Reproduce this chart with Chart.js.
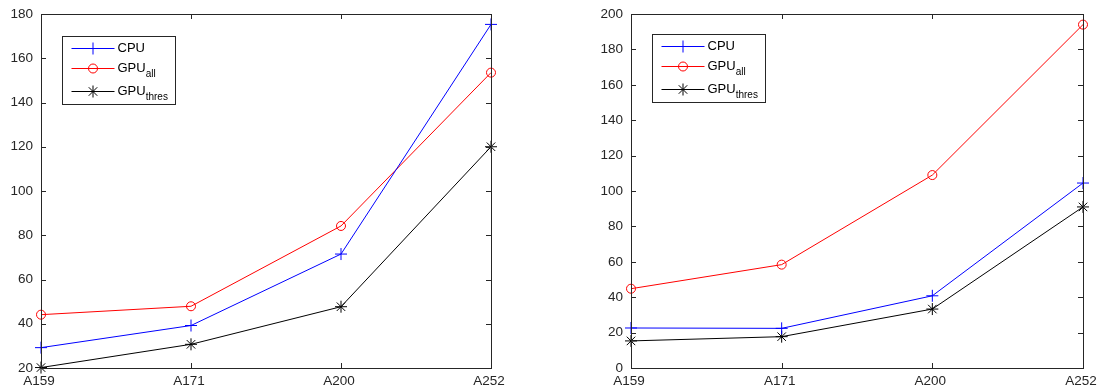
<!DOCTYPE html>
<html>
<head>
<meta charset="utf-8">
<script src="https://cdn.jsdelivr.net/npm/chart.js@4/dist/chart.umd.min.js"></script>
<style>
html,body{margin:0;padding:0;background:#fff;}
#wrap{position:relative;width:1097px;height:390px;}
.c{position:absolute;top:0;height:390px;}
</style>
</head>
<body>
<div id="wrap">
  <div class="c" style="left:0;width:548px;"><canvas id="c1"></canvas></div>
  <div class="c" style="left:548px;width:549px;"><canvas id="c2"></canvas></div>
</div>
<script>
const categories = ['A159', 'A171', 'A200', 'A252'];

// Left panel
const leftCPU   = [29.2, 39.2, 71.5, 175.3];
const leftGPUall   = [44.1, 47.9, 84.2, 153.5];
const leftGPUthres = [20.2, 30.7, 47.7, 120.0];
const leftTicks = [20, 40, 60, 80, 100, 120, 140, 160, 180];

// Right panel
const rightCPU   = [22.6, 22.4, 40.8, 104.5];
const rightGPUall   = [44.8, 58.4, 109.0, 194.0];
const rightGPUthres = [15.3, 17.7, 33.3, 91.0];
const rightTicks = [0, 20, 40, 60, 80, 100, 120, 140, 160, 180, 200];

const legendLabels = [['CPU', ''], ['GPU', 'all'], ['GPU', 'thres']];

const AX = '#262626';
const FONT = "'Liberation Sans', Arial, sans-serif";
const FS = 13.5;

function ds(label, data, color, style) {
  return {
    label, data,
    borderColor: color, backgroundColor: 'rgba(0,0,0,0)',
    borderWidth: 1, pointStyle: style,
    pointRadius: style === 'circle' ? 4.5 : 6,
    pointBorderColor: color, pointBackgroundColor: 'rgba(0,0,0,0)',
    pointBorderWidth: 1, tension: 0, clip: false
  };
}

function makeFrame(legendTop) {
  return {
    id: 'frame',
    afterDraw(chart) {
      const ctx = chart.ctx, a = chart.chartArea;
      const xs = chart.scales.x, ys = chart.scales.y;
      ctx.save();
      ctx.strokeStyle = AX;
      ctx.lineWidth = 1;
      ctx.strokeRect(Math.round(a.left) + 0.5, Math.round(a.top) + 0.5,
                     Math.round(a.right - a.left), Math.round(a.bottom - a.top));
      const L = 5;
      ctx.beginPath();
      ys.ticks.forEach((t, i) => {
        const y = Math.round(ys.getPixelForTick(i)) + 0.5;
        ctx.moveTo(a.left, y); ctx.lineTo(a.left + L, y);
        ctx.moveTo(a.right, y); ctx.lineTo(a.right - L, y);
      });
      xs.ticks.forEach((t, i) => {
        const x = Math.round(xs.getPixelForTick(i)) + 0.5;
        ctx.moveTo(x, a.bottom); ctx.lineTo(x, a.bottom - L);
        ctx.moveTo(x, a.top); ctx.lineTo(x, a.top + L);
      });
      ctx.stroke();

      // x tick labels
      ctx.fillStyle = AX;
      ctx.font = FS + 'px ' + FONT;
      ctx.textAlign = 'center';
      ctx.textBaseline = 'top';
      xs.ticks.forEach((t, i) => {
        const x = xs.getPixelForTick(i);
        ctx.fillText(categories[i], x - 2, a.bottom + 7);
      });

      // legend
      const bx = Math.round(a.left) + 21.5, by = Math.round(a.top) + legendTop + 0.5;
      const bw = 113, bh = 68;
      ctx.fillStyle = '#fff';
      ctx.fillRect(bx, by, bw, bh);
      ctx.strokeStyle = AX;
      ctx.strokeRect(bx, by, bw, bh);
      const rows = [11, 31, 54];
      chart.data.datasets.forEach((d, i) => {
        const y = Math.round(by + rows[i]) + 0.5;
        ctx.strokeStyle = d.borderColor;
        ctx.lineWidth = 1;
        ctx.beginPath();
        ctx.moveTo(bx + 9, y); ctx.lineTo(bx + 52, y);
        ctx.stroke();
        ctx.fillStyle = 'rgba(0,0,0,0)';
        Chart.helpers.drawPoint(ctx, {
          pointStyle: d.pointStyle, radius: d.pointRadius, borderWidth: 1, rotation: 0
        }, bx + 30.5, y);
        const lab = legendLabels[i];
        ctx.fillStyle = '#000';
        ctx.textBaseline = 'middle';
        ctx.textAlign = 'left';
        ctx.font = '13px ' + FONT;
        ctx.fillText(lab[0], bx + 55, y);
        if (lab[1]) {
          const w = ctx.measureText(lab[0]).width;
          ctx.font = '10px ' + FONT;
          ctx.fillText(lab[1], bx + 55 + w, y + 6);
        }
      });
      ctx.restore();
    }
  };
}

function make(id, cpu, gall, gthres, ticks, padLeft, padRight, legendTop) {
  const ymin = ticks[0], ymax = ticks[ticks.length - 1];
  const ctx = document.getElementById(id);
  return new Chart(ctx, {
    type: 'line',
    data: {
      labels: categories,
      datasets: [
        ds('CPU', cpu, '#0000ff', 'cross'),
        ds('GPUall', gall, '#ff0000', 'circle'),
        ds('GPUthres', gthres, '#000000', 'star')
      ]
    },
    options: {
      responsive: true, maintainAspectRatio: false, animation: false,
      layout: { padding: { left: padLeft, right: padRight, top: 14, bottom: 0 } },
      plugins: { legend: { display: false }, tooltip: { enabled: false } },
      scales: {
        x: {
          type: 'category', offset: false,
          grid: { display: false, drawTicks: false },
          border: { display: false },
          ticks: { display: false },
          afterFit(s) { s.height = 22; s.paddingLeft = 0; s.paddingRight = 0; }
        },
        y: {
          type: 'linear', min: ymin, max: ymax,
          afterBuildTicks(s) { s.ticks = ticks.map(v => ({ value: v })); },
          grid: { display: false, drawTicks: false },
          border: { display: false },
          ticks: { color: AX, font: { family: FONT, size: FS }, padding: 8 },
          afterFit(s) { s.width = 41; s.paddingTop = 0; s.paddingBottom = 0; }
        }
      }
    },
    plugins: [makeFrame(legendTop)]
  });
}

make('c1', leftCPU, leftGPUall, leftGPUthres, leftTicks, 0, 57, 22);
make('c2', rightCPU, rightGPUall, rightGPUthres, rightTicks, 42, 14, 20);
</script>
</body>
</html>
